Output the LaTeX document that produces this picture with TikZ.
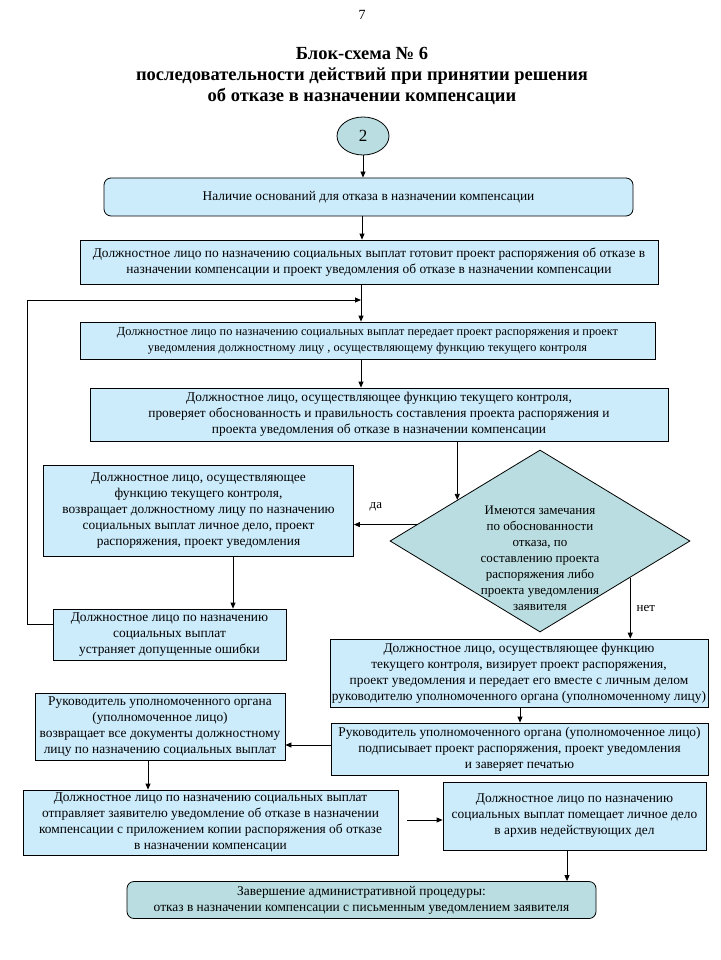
\documentclass[tikz,border=0pt]{standalone}
\usepackage{fontspec}
\setmainfont{Liberation Serif}
\usetikzlibrary{shapes.geometric,arrows.meta,calc}

\begin{document}
\begin{tikzpicture}[x=1pt, y=-1pt,
    >={Triangle[length=6pt,width=5pt]},
    box/.style={draw, thick, fill=boxblue, align=center, inner sep=2pt,
                font=\fontsize{13.4}{16}\selectfont},
    roundbox/.style={box, rounded corners=7pt},
    endbox/.style={roundbox, fill=greyteal},
    oval/.style={ellipse, draw, thick, fill=greyteal, inner sep=0pt,
                 minimum width=52pt, minimum height=38pt,
                 font=\fontsize{17}{20}\selectfont},
    decision/.style={diamond, draw, thick, fill=greyteal, inner sep=0pt,
                     minimum width=300pt, minimum height=182pt},
    flow/.style={thick, ->},
    tag/.style={font=\fontsize{13}{16}\selectfont, inner sep=1pt}]

  \definecolor{boxblue}{RGB}{204,236,252}
  \definecolor{greyteal}{RGB}{185,221,224}

  \useasboundingbox (0,0) rectangle (720,960);

  % Page number and title
  \node[font=\fontsize{14}{16}\selectfont] (page) at (362,15) {7};
  \node[align=center, font=\fontsize{18.5}{21}\bfseries] (head) at (362,76)
    {Блок-схема № 6\\
     последовательности действий при принятии решения\\
     об отказе в назначении компенсации};

  % Start
  \node[oval] (num) at (363,136) {2};

  % Boxes
  \node[roundbox, minimum width=529pt, minimum height=38pt] (b1) at (368.5,197)
    {Наличие оснований для отказа в назначении компенсации};
  \node[box, minimum width=578pt, minimum height=44pt] (b2) at (369,262)
    {Должностное лицо по назначению социальных выплат готовит проект распоряжения об отказе в\\
     назначении компенсации  и проект уведомления об отказе в назначении компенсации};
  \node[box, minimum width=575pt, minimum height=37pt,
        font=\fontsize{12.3}{16}\selectfont] (b3) at (367.5,340.5)
    {Должностное лицо по назначению социальных выплат  передает проект распоряжения  и проект\\
     уведомления должностному лицу , осуществляющему функцию текущего контроля};
  \node[box, minimum width=578pt, minimum height=53pt] (b4) at (379,414.5)
    {Должностное лицо, осуществляющее функцию  текущего контроля,\\
     проверяет  обоснованность и правильность  составления проекта распоряжения и\\
     проекта уведомления об отказе в назначении  компенсации};

  % Decision
  \node[decision] (dec) at (540,541) {};
  \node[tag, align=center] (dectext) at (540,558)
    {Имеются замечания\\ по обоснованности\\ отказа, по\\ составлению проекта\\
     распоряжения либо\\ проекта уведомления\\ заявителя};

  \node[box, minimum width=310pt, minimum height=91pt] (b5) at (198.5,511)
    {Должностное лицо, осуществляющее\\
     функцию  текущего контроля,\\
     возвращает должностному лицу по назначению\\
     социальных выплат  личное дело, проект\\
     распоряжения, проект уведомления};
  \node[box, minimum width=233pt, minimum height=51pt] (b6) at (169.5,634.5)
    {Должностное лицо по назначению\\ социальных  выплат\\ устраняет допущенные ошибки};
  \node[box, minimum width=378pt, minimum height=68pt] (b7) at (519,673)
    {Должностное лицо,  осуществляющее функцию\\
     текущего контроля, визирует проект распоряжения,\\
     проект уведомления и передает его вместе с личным делом\\
     руководителю уполномоченного органа (уполномоченному лицу)};
  \node[box, minimum width=377pt, minimum height=52pt] (b8) at (519.5,749)
    {Руководитель уполномоченного органа (уполномоченное лицо)\\
     подписывает проект  распоряжения, проект уведомления\\
     и заверяет печатью};
  \node[box, minimum width=250pt, minimum height=67pt] (b9) at (160,726.5)
    {Руководитель уполномоченного органа\\
     (уполномоченное лицо)\\
     возвращает все документы  должностному\\
     лицу  по назначению социальных выплат};
  \node[box, minimum width=375pt, minimum height=65pt] (b10) at (210.5,822.5)
    {Должностное лицо   по назначению социальных выплат\\
     отправляет  заявителю  уведомление об отказе в назначении\\
     компенсации  с приложением  копии распоряжения об отказе\\
     в назначении компенсации};
  \node[box, minimum width=263pt, minimum height=68pt] (b11) at (574.5,816)
    {Должностное лицо по назначению\\
     социальных выплат  помещает личное дело\\
     в  архив  недействующих дел};
  \node[endbox, minimum width=469pt, minimum height=37pt] (b12) at (361.5,900)
    {Завершение административной процедуры:\\
     отказ в назначении компенсации  с письменным  уведомлением заявителя};

  % Points on the diamond edges
  \coordinate (decin)  at ($(dec.west)!0.45!(dec.north)$);
  \coordinate (decyes) at ($(dec.west)!0.18!(dec.north)$);
  \coordinate (decno)  at ($(dec.east)!0.4!(dec.south)$);
  \coordinate (merge)  at (361,300);
  \coordinate (loopup) at (27,300);

  % Connectors
  \draw[flow] (num.south) -- (num.south |- b1.north);
  \draw[flow] (b1.south -| 362,0) -- (b2.north -| 362,0);
  \draw[thick] (b2.south -| merge) -- (merge);
  \draw[flow] (merge) -- (b3.north -| merge);
  \draw[flow] (b3.south -| merge) -- (b4.north -| merge);
  \draw[flow] (b4.south -| decin) -- (decin);
  \draw[flow] (decyes) -- (decyes -| b5.east) node[tag, pos=0.65, above=12pt] {да};
  \draw[flow] (decno) -- (decno |- b7.north) node[tag, pos=0.5, right=5pt] {нет};
  \draw[flow] (b5.south -| 233,0) -- (b6.north -| 233,0);
  \draw[flow] ([yshift=10pt]b6.west) -| (loopup) -- (merge);
  \draw[flow] (b7.south -| 520,0) -- (b8.north -| 520,0);
  \draw[flow] (b8.west |- 0,745) -- (b9.east |- 0,745);
  \draw[flow] (b9.south -| 148,0) -- (b10.north -| 148,0);
  \draw[flow, shorten <=9pt] (b10.east |- 0,820) -- (b11.west |- 0,820);
  \draw[flow] (b11.south -| 567,0) -- (b12.north -| 567,0);
\end{tikzpicture}
\end{document}
